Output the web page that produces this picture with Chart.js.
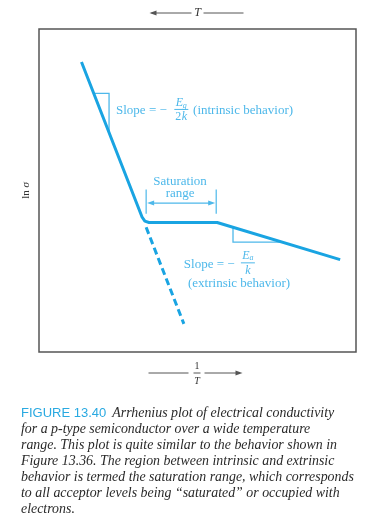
<!DOCTYPE html>
<html>
<head>
<meta charset="utf-8">
<script src="https://cdn.jsdelivr.net/npm/chart.js@4.4.1/dist/chart.umd.min.js"></script>
<style>
  html, body { margin: 0; padding: 0; background: #fff; }
  #wrap { position: relative; width: 377px; height: 529px; }
  #chart { position: absolute; left: 0; top: 0; }
  #caption {
    position: absolute; left: 21px; top: 405px; width: 356px;
    font-family: "Liberation Serif", "Times New Roman", serif; font-style: italic;
    font-size: 13.9px; line-height: 16px; color: #2a2a2a; white-space: nowrap;
  }
  #caption .fig {
    font-family: "Liberation Sans", Arial, sans-serif; font-style: normal;
    font-size: 13px; color: #29a9e1; margin-right: 6px;
  }
</style>
</head>
<body>
<div id="wrap">
  <canvas id="chart" width="377" height="529"></canvas>
  <div id="caption"><span class="fig">FIGURE 13.40</span>Arrhenius plot of electrical conductivity<br>for a p-type semiconductor over a wide temperature<br>range. This plot is quite similar to the behavior shown in<br>Figure 13.36. The region between intrinsic and extrinsic<br>behavior is termed the saturation range, which corresponds<br>to all acceptor levels being “saturated” or occupied with<br>electrons.</div>
</div>
<script>
// 1/T (arbitrary units, increasing to the right) and ln sigma (arbitrary units)
const curveX = [13.4, 32.5, 33.4, 34.7, 56.2, 95.0];
const curveY = [89.8, 41.8, 40.5, 40.1, 40.1, 28.6];

// intrinsic behaviour extrapolated below the saturation range
const intrinsicExtX = [33.8, 45.7];
const intrinsicExtY = [38.6, 8.7];

// slope triangles
const triIntrinsicX = [17.3, 22.1, 22.1];
const triIntrinsicY = [80.1, 80.1, 68.0];
const triExtrinsicX = [61.2, 61.2, 76.8];
const triExtrinsicY = [38.6, 34.0, 34.0];

// saturation range limits (1/T)
const saturationRange = [33.8, 55.9];

const lineColor = '#19a4e2';
const noteColor = '#4db8ea';
const axisColor = '#555';

function pts(xs, ys) {
    const out = [];
    for (let i = 0; i < xs.length; i++) {
        out.push({ x: xs[i], y: ys[i] });
    }
    return out;
}

function arrowHead(ctx, x, y, dir) {
    ctx.beginPath();
    ctx.moveTo(x, y);
    ctx.lineTo(x - dir * 7, y - 2.5);
    ctx.lineTo(x - dir * 7, y + 2.5);
    ctx.closePath();
    ctx.fill();
}

const annotations = {
    id: 'annotations',
    beforeDatasetsDraw(chart) {
        const ctx = chart.ctx;
        const a = chart.chartArea;
        ctx.save();
        ctx.strokeStyle = axisColor;
        ctx.lineWidth = 1.5;
        ctx.strokeRect(a.left, a.top, a.right - a.left, a.bottom - a.top);
        ctx.restore();
    },
    afterDatasetsDraw(chart) {
        const ctx = chart.ctx;
        const a = chart.chartArea;
        const sx = chart.scales.x;
        const sy = chart.scales.y;
        const X = v => sx.getPixelForValue(v);
        const Y = v => sy.getPixelForValue(v);
        const cx = (a.left + a.right) / 2;
        const serif = '"Liberation Serif", "Times New Roman", serif';

        ctx.save();

        // top axis: <-- T --
        ctx.strokeStyle = axisColor;
        ctx.fillStyle = axisColor;
        ctx.lineWidth = 1;
        let ty = a.top - 16;
        ctx.beginPath();
        ctx.moveTo(cx - 46, ty); ctx.lineTo(cx - 6, ty);
        ctx.moveTo(cx + 6, ty); ctx.lineTo(cx + 46, ty);
        ctx.stroke();
        arrowHead(ctx, cx - 48, ty, -1);
        ctx.fillStyle = '#333';
        ctx.font = 'italic 12px ' + serif;
        ctx.textAlign = 'center';
        ctx.textBaseline = 'middle';
        ctx.fillText('T', cx, ty);

        // bottom axis: -- 1/T -->
        let by = a.bottom + 21;
        ctx.fillStyle = axisColor;
        ctx.beginPath();
        ctx.moveTo(cx - 49, by); ctx.lineTo(cx - 9, by);
        ctx.moveTo(cx + 7, by); ctx.lineTo(cx + 41, by);
        ctx.moveTo(cx - 4, by); ctx.lineTo(cx + 3, by);
        ctx.stroke();
        arrowHead(ctx, cx + 45, by, 1);
        ctx.fillStyle = '#333';
        ctx.font = '10px ' + serif;
        ctx.fillText('1', cx - 0.5, by - 7);
        ctx.font = 'italic 10px ' + serif;
        ctx.fillText('T', cx - 0.5, by + 8);

        // y axis label
        ctx.save();
        ctx.translate(a.left - 13, (a.top + a.bottom) / 2);
        ctx.rotate(-Math.PI / 2);
        ctx.font = '11px ' + serif;
        ctx.textAlign = 'left';
        const w1 = ctx.measureText('ln ').width;
        ctx.font = 'italic 11px ' + serif;
        const w2 = ctx.measureText('σ').width;
        ctx.font = '11px ' + serif;
        ctx.fillText('ln ', -(w1 + w2) / 2, 0);
        ctx.font = 'italic 11px ' + serif;
        ctx.fillText('σ', -(w1 + w2) / 2 + w1, 0);
        ctx.restore();

        // saturation range marker
        ctx.strokeStyle = noteColor;
        ctx.fillStyle = noteColor;
        ctx.lineWidth = 1.2;
        const s0 = X(saturationRange[0]);
        const s1 = X(saturationRange[1]);
        const sTop = Y(50.3), sBot = Y(42.8), sMid = Y(46.1);
        ctx.beginPath();
        ctx.moveTo(s0, sTop); ctx.lineTo(s0, sBot);
        ctx.moveTo(s1, sTop); ctx.lineTo(s1, sBot);
        ctx.moveTo(s0 + 4, sMid); ctx.lineTo(s1 - 4, sMid);
        ctx.stroke();
        arrowHead(ctx, s0 + 1, sMid, -1);
        ctx.beginPath();
        arrowHead(ctx, s1 - 1, sMid, 1);

        ctx.font = '13px ' + serif;
        ctx.textAlign = 'center';
        ctx.fillText('Saturation', X(44.5), Y(52.7));
        ctx.fillText('range', X(44.5), Y(48.9));

        // intrinsic slope label
        ctx.textAlign = 'left';
        ctx.fillText('Slope = \u2212', X(24.3), Y(74.8));
        ctx.fillText('(intrinsic behavior)', X(48.6), Y(74.8));
        let fx = X(44.9), fy = Y(75.1);
        ctx.beginPath();
        ctx.moveTo(fx - 7, fy); ctx.lineTo(fx + 7, fy);
        ctx.lineWidth = 1;
        ctx.stroke();
        ctx.textAlign = 'center';
        ctx.font = 'italic 12px ' + serif;
        ctx.fillText('E', fx - 2, fy - 6.5);
        ctx.font = 'italic 8px ' + serif;
        ctx.fillText('g', fx + 3.5, fy - 4);
        ctx.font = '12px ' + serif;
        ctx.fillText('2', fx - 3, fy + 7);
        ctx.font = 'italic 12px ' + serif;
        ctx.fillText('k', fx + 3, fy + 7);

        // extrinsic slope label
        ctx.font = '13px ' + serif;
        ctx.textAlign = 'left';
        ctx.fillText('Slope = \u2212', X(45.7), Y(27.0));
        ctx.fillText('(extrinsic behavior)', X(47.0), Y(21.1));
        fx = X(65.9); fy = Y(27.6);
        ctx.beginPath();
        ctx.moveTo(fx - 7, fy); ctx.lineTo(fx + 7, fy);
        ctx.stroke();
        ctx.textAlign = 'center';
        ctx.font = 'italic 12px ' + serif;
        ctx.fillText('E', fx - 2, fy - 7);
        ctx.font = 'italic 8px ' + serif;
        ctx.fillText('a', fx + 3.5, fy - 4.5);
        ctx.font = 'italic 12px ' + serif;
        ctx.fillText('k', fx, fy + 8);

        ctx.restore();
    }
};

new Chart(document.getElementById('chart').getContext('2d'), {
    type: 'scatter',
    data: {
        datasets: [
            {
                data: pts(curveX, curveY),
                showLine: true, borderColor: lineColor, borderWidth: 3,
                pointRadius: 0, borderJoinStyle: 'round'
            },
            {
                data: pts(intrinsicExtX, intrinsicExtY),
                showLine: true, borderColor: lineColor, borderWidth: 3,
                borderDash: [7, 4], pointRadius: 0
            },
            {
                data: pts(triIntrinsicX, triIntrinsicY),
                showLine: true, borderColor: noteColor, borderWidth: 1.3, pointRadius: 0
            },
            {
                data: pts(triExtrinsicX, triExtrinsicY),
                showLine: true, borderColor: noteColor, borderWidth: 1.3, pointRadius: 0
            }
        ]
    },
    options: {
        responsive: false,
        animation: false,
        layout: { padding: { left: 39, top: 29, right: 21, bottom: 177 } },
        plugins: { legend: { display: false }, tooltip: { enabled: false } },
        scales: {
            x: { type: 'linear', min: 0, max: 100, display: false },
            y: { type: 'linear', min: 0, max: 100, display: false }
        }
    },
    plugins: [annotations]
});
</script>
</body>
</html>
